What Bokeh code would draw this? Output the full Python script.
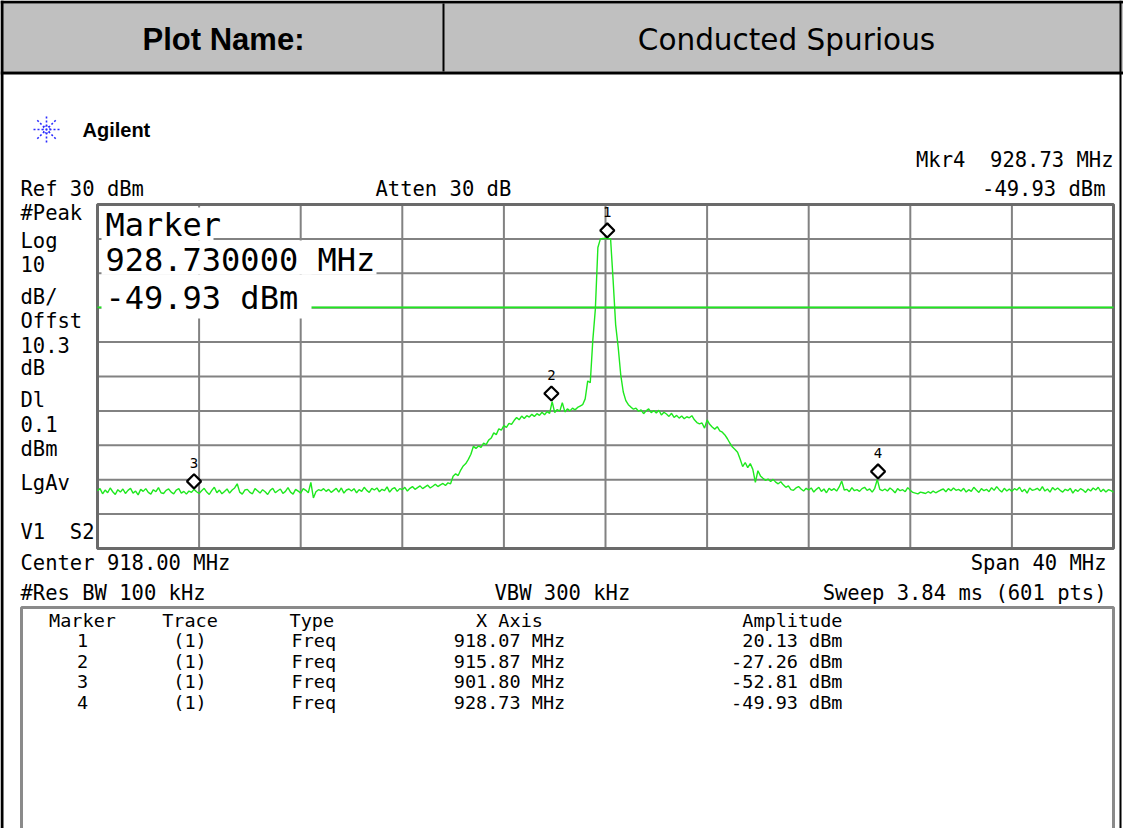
import numpy as np
from bokeh.plotting import figure
from bokeh.models import Range1d, ColumnDataSource
from bokeh.core.properties import value
from bokeh.embed import file_html
from bokeh.resources import INLINE

# ------------------------------------------------------------------ data
F_START, F_STOP = 898.0, 938.0          # MHz (Center 918, Span 40)
REF_LEVEL = 30.0                         # dBm
DB_PER_DIV = 10.0
N_DIV = 10
DISPLAY_LINE = 0.1                       # dBm

freq_grid = [898, 902, 906, 910, 914, 918, 922, 926, 930, 934, 938]
amp_grid = [-70, -60, -50, -40, -30, -20, -10, 0, 10, 20, 30]

# trace amplitude (dBm), 0.1 MHz steps from 898.0 to 938.0 MHz
trace_dbm = [
    -53.2, -52.6, -54.1, -53.0, -53.8, -52.4, -53.5, -54.3, -52.9, -53.6,
    -52.7, -54.0, -53.1, -52.5, -53.9, -53.3, -54.4, -52.8, -53.4, -52.6,
    -53.7, -54.2, -52.9, -53.5, -52.3, -53.8, -54.0, -53.1, -52.7, -53.6,
    -54.1, -53.0, -52.6, -53.9, -53.4, -54.2, -53.3, -53.7, -52.81, -53.5,
    -54.0, -53.2, -52.5, -53.6, -54.3, -53.1, -52.2, -53.8, -53.0, -54.1,
    -53.4, -52.7, -53.9, -53.0, -52.4, -51.2, -53.6, -54.2, -53.0, -52.8,
    -53.7, -54.1, -52.6, -53.2, -53.9, -52.9, -53.5, -54.3, -53.1, -52.5,
    -53.8, -53.2, -52.7, -54.0, -53.4, -52.3, -53.6, -54.2, -52.8, -53.3,
    -53.9, -52.6, -53.1, -53.8, -50.8, -55.3, -53.5, -52.9, -53.2, -52.6,
    -53.4, -52.8, -53.7, -53.1, -52.5, -53.6, -52.4, -53.9, -53.0, -52.7,
    -53.3, -52.6, -53.8, -52.9, -53.4, -52.2, -53.1, -53.7, -52.5, -53.0,
    -52.4, -53.5, -52.8, -53.2, -52.1, -53.6, -52.7, -52.3, -53.4, -52.6,
    -52.9, -52.2, -53.3, -52.5, -52.0, -52.8, -52.3, -51.8, -52.6, -52.1,
    -51.6, -52.4, -51.9, -51.3, -52.0, -51.5, -51.1, -51.7, -50.9, -51.2,
    -49.0, -48.3, -48.8, -47.2, -46.0, -45.3, -44.1, -42.6, -40.3, -40.9,
    -40.2, -40.6, -39.4, -39.8, -38.5, -37.9, -36.4, -36.9, -35.2, -35.6,
    -34.3, -34.8, -33.6, -33.9, -32.8, -31.9, -32.6, -31.5, -32.2, -31.4,
    -31.8, -31.0, -31.6, -30.8, -31.3, -30.4, -31.1, -30.2, -30.7, -27.3,
    -30.5, -29.6, -30.1, -27.6, -30.3, -29.4, -30.0, -29.2, -29.7, -29.0,
    -28.6, -28.2, -26.5, -21.3, -21.8, -9.5, -0.5, 17.5, 20.0, 20.1,
    20.1, 20.13, 20.0, 8.0, -5.0, -11.5, -19.5, -24.5, -27.0, -28.2,
    -28.9, -29.5, -29.2, -30.1, -29.7, -30.8, -30.0, -29.4, -30.5, -29.9,
    -30.6, -29.8, -31.2, -30.4, -30.9, -31.6, -30.7, -31.9, -31.3, -32.1,
    -31.5, -32.3, -31.7, -32.0, -31.4, -32.6, -33.4, -33.8, -33.5, -35.0,
    -32.6, -33.9, -34.7, -35.3, -34.6, -35.8, -36.2, -37.0, -38.1, -39.4,
    -40.5, -41.2, -42.0, -44.0, -46.2, -45.0, -46.5, -45.3, -47.0, -50.8,
    -47.4, -48.9, -49.6, -50.2, -49.8, -50.5, -49.9, -50.7, -51.2, -50.6,
    -51.5, -52.2, -51.8, -52.9, -53.1, -52.4, -52.0, -52.7, -53.3, -52.5,
    -53.0, -52.4, -53.6, -52.8, -52.2, -53.4, -52.7, -53.8, -52.5, -53.1,
    -52.6, -53.3, -52.1, -50.4, -53.0, -52.8, -53.5, -52.3, -53.2, -52.9,
    -53.4, -52.6, -52.2, -53.1, -52.7, -53.6, -52.5, -49.93, -52.8, -53.2,
    -52.7, -53.3, -52.4, -53.0, -53.8, -52.6, -53.2, -52.9, -53.5, -52.3,
    -53.1, -53.7, -53.9, -54.1, -53.6, -53.8, -54.0, -53.5, -53.9, -53.3,
    -53.8, -53.4, -53.0, -52.7, -53.5, -52.6, -53.2, -52.4, -53.1, -52.8,
    -53.3, -52.5, -53.6, -52.9, -53.4, -52.2, -53.0, -53.7, -52.6, -53.2,
    -52.8, -53.5, -52.3, -53.1, -52.0, -52.9, -53.6, -52.5, -53.3, -52.7,
    -53.4, -52.6, -53.0, -52.2, -53.5, -52.8, -53.9, -52.4, -53.1, -52.9,
    -52.5, -53.2, -52.0, -53.3, -52.7, -53.6, -52.3, -53.0, -52.4, -53.1,
    -53.6, -52.8, -53.2, -52.5, -53.9, -52.9, -53.4, -52.6, -53.0, -53.7,
    -52.7, -53.3, -52.4, -53.0, -52.2, -53.5, -52.8, -53.6, -52.9, -53.2,
    -53.6,
]

marker_ids = ["1", "2", "3", "4"]
marker_freq = [918.07, 915.87, 901.80, 928.73]     # MHz
marker_amp = [20.13, -27.26, -52.81, -49.93]       # dBm
marker_trace = ["(1)", "(1)", "(1)", "(1)"]
marker_type = ["Freq", "Freq", "Freq", "Freq"]
table_header = ["Marker", "Trace", "Type", "X Axis", "Amplitude"]

NB = "\u00a0"
left_labels = ["#Peak", "Log", "10", "dB/", "Offst", "10.3", "dB",
               "Dl", "0.1", "dBm", "LgAv", f"V1{NB}{NB}S2"]

# ------------------------------------------------------------------ layout
W, H = 1123, 828
GL, GR, GT, GB = 97, 1113, 204, 548      # graticule box (px)
MONO = "DejaVu Sans Mono"
GREEN = "#1ee81e"

p = figure(width=W, height=H, x_range=Range1d(0, W), y_range=Range1d(H, 0),
           toolbar_location=None, output_backend="svg", min_border=0,
           x_axis_type=None, y_axis_type=None, title=None)
p.outline_line_color = None
p.background_fill_color = "white"
p.border_fill_color = "white"
p.xgrid.visible = False
p.ygrid.visible = False

px_per_mhz = (GR - GL) / (F_STOP - F_START)
amp_bottom = REF_LEVEL - N_DIV * DB_PER_DIV
px_per_db = (GB - GT) / (N_DIV * DB_PER_DIV)
p.extra_x_ranges = {"f": Range1d(F_START - GL / px_per_mhz,
                                 F_START + (W - GL) / px_per_mhz)}
p.extra_y_ranges = {"a": Range1d(amp_bottom - (H - GB) / px_per_db,
                                 REF_LEVEL + GT / px_per_db)}
FA = dict(x_range_name="f", y_range_name="a")


def txt(xs, ys, texts, size, align="left", font=MONO, style="normal",
        color="black", baseline="middle", ranges=None, **kw):
    src = ColumnDataSource(dict(x=list(xs), y=list(ys), t=list(texts)))
    extra = ranges or {}
    p.text("x", "y", text="t", source=src, text_font=value(font),
           text_font_size=value(size), text_align=align,
           text_baseline=baseline, text_color=color,
           text_font_style=style, **extra, **kw)


# header
p.quad(left=0, right=W, top=3, bottom=71, fill_color="#c0c0c0", line_color=None)
p.segment(x0=[0, 0, 443, 1.5, 1120], y0=[1.5, 72.5, 3, 0, 0],
          x1=[W, W, 443, 1.5, 1120], y1=[1.5, 72.5, 71, H, H],
          line_color="black", line_width=[3, 3, 2, 3, 2])
txt([223], [39], ["Plot Name:"], "31px", align="center",
    font="Liberation Sans", style="bold")
txt([786], [39], ["Conducted Spurious"], "29.5px", align="center",
    font="DejaVu Sans")

# logo
p.scatter([46], [129], marker="asterisk", size=26, line_color="#2a2aff",
          line_width=1.6, line_dash="2 2")
p.scatter([46], [129], marker="circle", size=7, line_color="#2a2aff",
          fill_color=None, line_width=1.2, line_dash="1 1")
txt([82], [129], ["Agilent"], "20px", font="Liberation Sans", style="bold")

# graticule
p.segment(x0=freq_grid, y0=[amp_bottom] * len(freq_grid),
          x1=freq_grid, y1=[REF_LEVEL] * len(freq_grid),
          line_color="#828282", line_width=2, **FA)
p.segment(x0=[F_START] * len(amp_grid), y0=amp_grid,
          x1=[F_STOP] * len(amp_grid), y1=amp_grid,
          line_color="#828282", line_width=2, **FA)
p.quad(left=[F_START], right=[F_STOP], bottom=[amp_bottom], top=[REF_LEVEL],
       fill_color=None, line_color="#6a6a6a", line_width=3, **FA)

# display line and trace
p.segment(x0=[F_START], y0=[DISPLAY_LINE], x1=[F_STOP], y1=[DISPLAY_LINE],
          line_color=GREEN, line_width=1.6, **FA)
freq = F_START + np.arange(len(trace_dbm)) * (F_STOP - F_START) / (len(trace_dbm) - 1)
p.line(freq, trace_dbm, line_color=GREEN, line_width=1.4, **FA)

# marker readout box (white backgrounds)
p.quad(left=[101, 101, 101], right=[213, 376, 311], top=[207, 240, 274],
       bottom=[240, 274, 318], fill_color="white", line_color=None)
mk = marker_ids.index("4")
txt([105, 105, 105], [224, 259, 297],
    ["Marker", f"{marker_freq[mk]:.6f} MHz", f"{marker_amp[mk]:.2f} dBm"],
    "32px")

# markers
lift = 8 / px_per_db
p.scatter(marker_freq, [a + lift for a in marker_amp], marker="square",
          angle=np.pi / 4, size=10, line_color="black", line_width=2.2,
          fill_color="white", **FA)
txt(marker_freq, marker_amp, marker_ids, "14px", align="center",
    ranges=FA, y_offset=-26)

# annotation texts
SZ = "20.5px"
txt([1113], [159], [f"Mkr4{NB}{NB}{marker_freq[mk]:.2f} MHz"], SZ, align="right")
txt([1105], [188], [f"{marker_amp[mk]:.2f} dBm"], SZ, align="right")
txt([20, 375], [188, 188], ["Ref 30 dBm", "Atten 30 dB"], SZ)
txt([20] * len(left_labels),
    [212, 240, 263, 296, 320, 344, 367, 399, 423, 448, 482, 531],
    left_labels, SZ)
txt([20, 20, 494], [562, 592, 592],
    ["Center 918.00 MHz", "#Res BW 100 kHz", "VBW 300 kHz"], SZ)
txt([1106, 1106], [562, 592], ["Span 40 MHz", "Sweep 3.84 ms (601 pts)"],
    SZ, align="right")

# marker table
p.quad(left=[21], right=[1113], top=[607], bottom=[H + 20],
       fill_color="white", line_color="#8a8a8a", line_width=3)
TS = "18.5px"
ROW0, ROW_DY = 640, 20.5
rows = [ROW0 + i * ROW_DY for i in range(len(marker_ids))]
txt([82, 189.5], [619.5, 619.5], table_header[:2], TS, align="center")
txt([289], [619.5], [table_header[2]], TS)
txt([509], [619.5], [table_header[3]], TS, align="center")
txt([842], [619.5], [table_header[4]], TS, align="right")
txt([82] * 4, rows, marker_ids, TS, align="center")
txt([189.5] * 4, rows, marker_trace, TS, align="center")
txt([291] * 4, rows, marker_type, TS)
txt([509] * 4, rows, [f"{f:.2f} MHz" for f in marker_freq], TS, align="center")
txt([842] * 4, rows, [f"{a:.2f} dBm" for a in marker_amp], TS, align="right")

open("out.html", "w").write(file_html(p, INLINE))
